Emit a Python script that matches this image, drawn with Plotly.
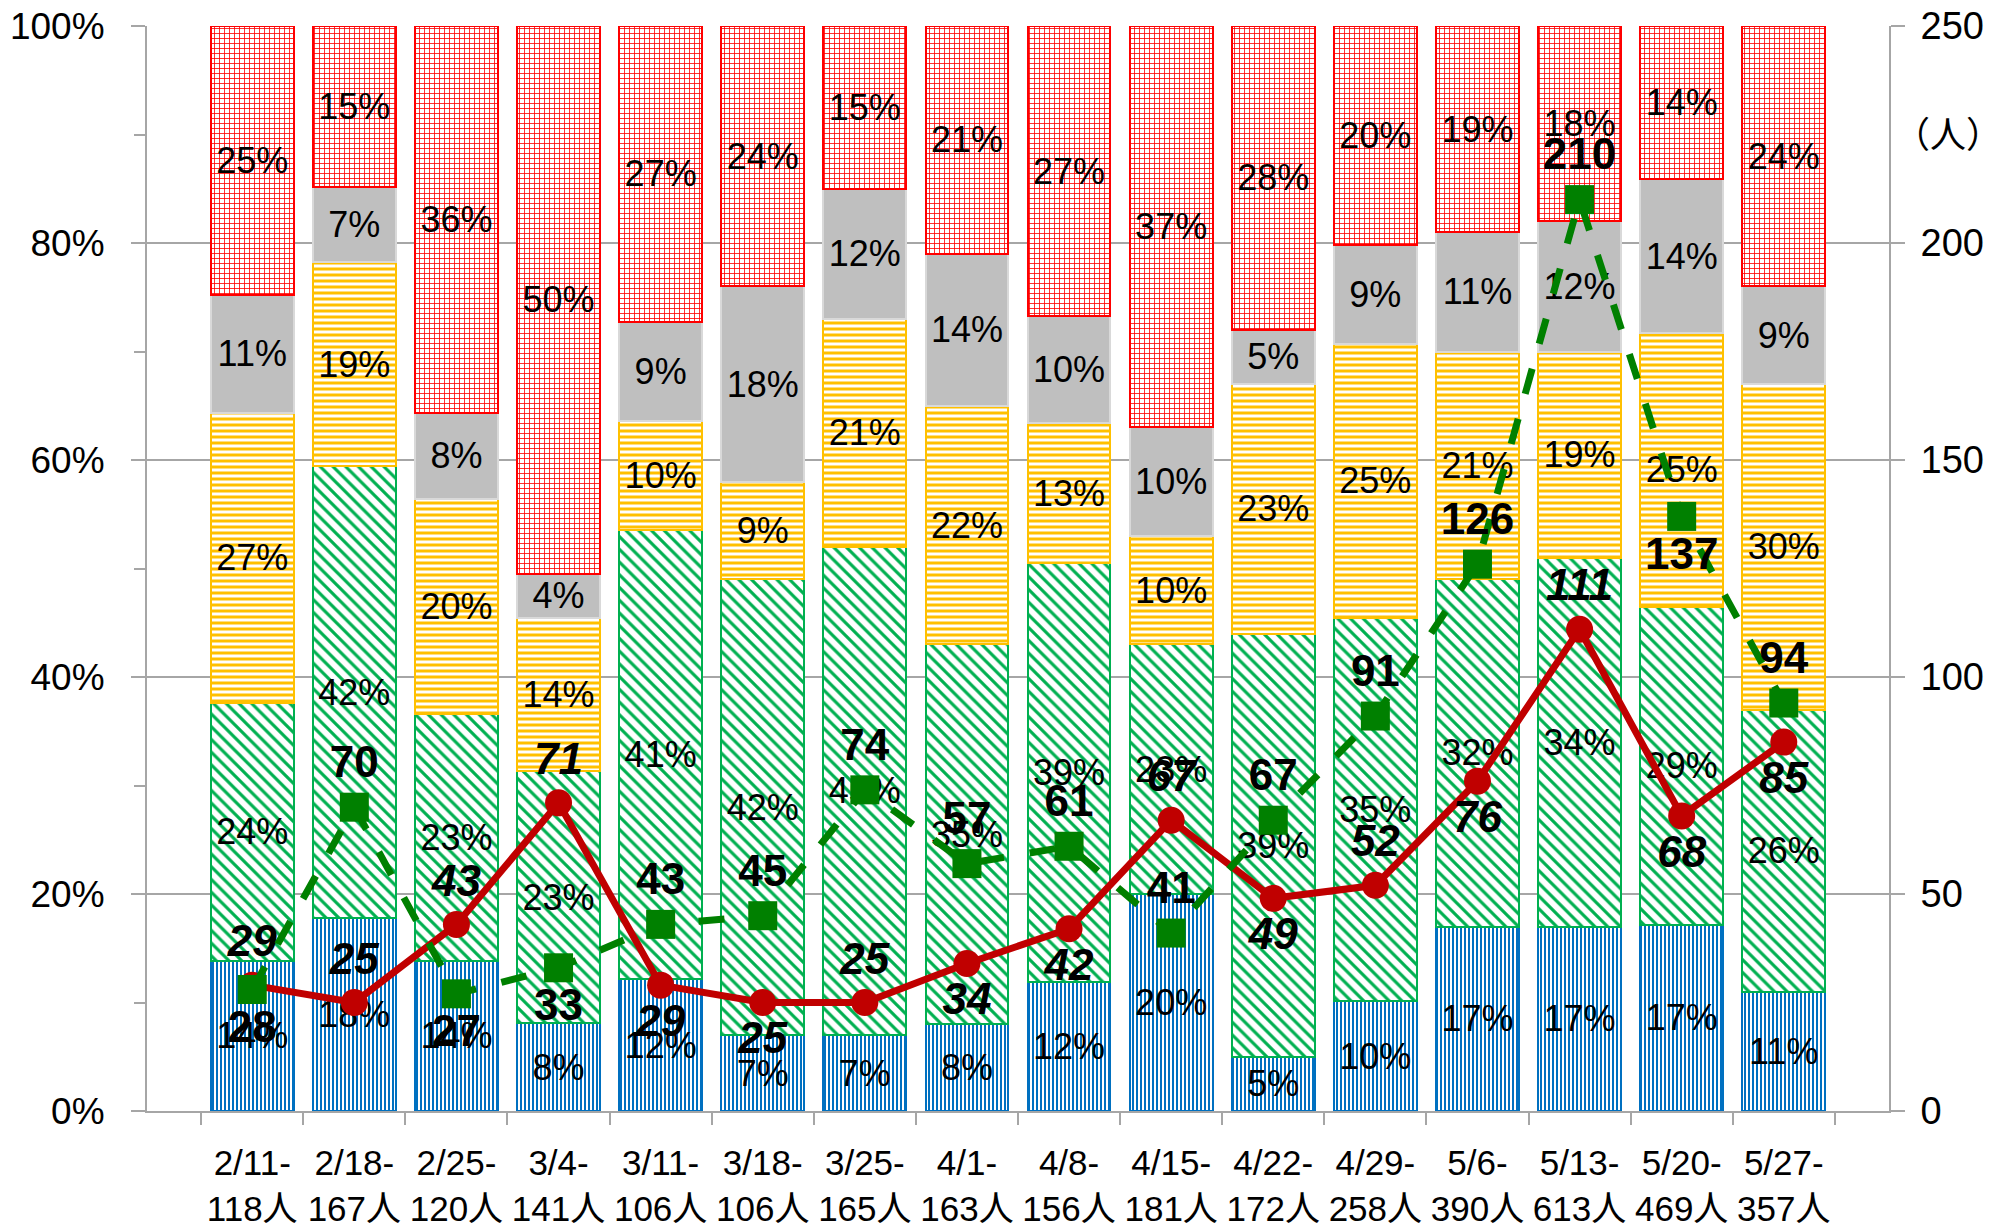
import plotly.graph_objects as go

weeks = ["2/11-", "2/18-", "2/25-", "3/4-", "3/11-", "3/18-", "3/25-", "4/1-",
         "4/8-", "4/15-", "4/22-", "4/29-", "5/6-", "5/13-", "5/20-", "5/27-"]
totals = [118, 167, 120, 141, 106, 106, 165, 163, 156, 181, 172, 258, 390, 613, 469, 357]

blue = [14, 18, 14, 8, 12, 7, 7, 8, 12, 20, 5, 10, 17, 17, 17, 11]
green = [24, 42, 23, 23, 41, 42, 45, 35, 39, 23, 39, 35, 32, 34, 29, 26]
yellow = [27, 19, 20, 14, 10, 9, 21, 22, 13, 10, 23, 25, 21, 19, 25, 30]
gray = [11, 7, 8, 4, 9, 18, 12, 14, 10, 10, 5, 9, 11, 12, 14, 9]
red = [25, 15, 36, 50, 27, 24, 15, 21, 27, 37, 28, 20, 19, 18, 14, 24]

line_red = [29, 25, 43, 71, 29, 25, 25, 34, 42, 67, 49, 52, 76, 111, 68, 85]
line_green = [28, 70, 27, 33, 43, 45, 74, 57, 61, 41, 67, 91, 126, 210, 137, 94]

red_label_pos = ["top", "top", "top", "top", "bottom", "bottom", "top", "bottom",
                 "bottom", "top", "bottom", "top", "bottom", "top", "bottom", "bottom"]
green_label_pos = ["bottom", "top", "bottom", "bottom", "top", "top", "top", "top",
                   "top", "top", "top", "top", "top", "top", "bottom", "top"]

cats = [f"{w}<br>{t}人" for w, t in zip(weeks, totals)]

FONT = "Liberation Sans, Arial, Noto Sans CJK JP, sans-serif"

segments = [
    (blue, "#0070C0", "|", "#0070C0", "#FFFFFF", 4, 0.5),
    (green, "#00B050", "\\", "#00B050", "#FFFFFF", 9, 0.35),
    (yellow, "#FFC000", "-", "#FFC000", "#FFFFFF", 6, 0.5),
    (gray, "#D9D9D9", "", "#BFBFBF", "#BFBFBF", 6, 0.5),
    (red, "#FF0000", "+", "#FF0000", "#FFFFFF", 5, 0.3),
]

fig = go.Figure()
for vals, border, shape, fg, bg, size, sol in segments:
    marker = dict(color=bg, line=dict(color=border, width=2))
    if shape:
        marker["pattern"] = dict(shape=shape, fgcolor=fg, bgcolor=bg, size=size,
                                 solidity=sol, fillmode="replace")
    else:
        marker["color"] = fg
    fig.add_trace(go.Bar(
        x=cats, y=vals, marker=marker,
        text=[f"{v}%" for v in vals], textposition="inside",
        insidetextanchor="middle", textangle=0,
        textfont=dict(family=FONT, size=36, color="black"),
        hoverinfo="skip",
    ))

fig.add_trace(go.Scatter(
    x=cats, y=line_red, yaxis="y2", mode="lines+markers+text",
    line=dict(color="#C00000", width=7),
    marker=dict(symbol="circle", size=27, color="#C00000"),
    text=[str(v) for v in line_red],
    textposition=[p + " center" for p in red_label_pos],
    textfont=dict(family=FONT, size=44, color="black", weight="bold", style="italic"),
    cliponaxis=False, hoverinfo="skip",
))
fig.add_trace(go.Scatter(
    x=cats, y=line_green, yaxis="y2", mode="lines+markers+text",
    line=dict(color="#008000", width=7, dash="26px,26px"),
    marker=dict(symbol="square", size=29, color="#008000"),
    text=[str(v) for v in line_green],
    textposition=[p + " center" for p in green_label_pos],
    textfont=dict(family=FONT, size=44, color="black", weight="bold"),
    cliponaxis=False, hoverinfo="skip",
))

axis_gray = "#A6A6A6"
fig.update_layout(
    width=1995, height=1218,
    margin=dict(l=139, r=114, t=18, b=115),
    barmode="stack", barnorm="percent", bargap=0.19,
    plot_bgcolor="white", paper_bgcolor="white",
    showlegend=False,
    uniformtext=dict(minsize=36, mode="show"),
    font=dict(family=FONT, size=36, color="black"),
    xaxis=dict(
        type="category", tickson="boundaries", ticks="outside", ticklen=12,
        tickcolor=axis_gray, tickwidth=2, showline=True, linecolor=axis_gray,
        linewidth=2, tickfont=dict(family=FONT, size=35, color="black"),
        tickangle=0, automargin=False, showgrid=False, ticklabelstandoff=20,
    ),
    yaxis=dict(
        range=[0, 100], dtick=20, ticksuffix="%", showgrid=True,
        gridcolor=axis_gray, gridwidth=1.5, zeroline=False,
        ticks="outside", ticklen=14, tickcolor=axis_gray, tickwidth=2,
        minor=dict(dtick=10, ticks="outside", ticklen=11, tickcolor=axis_gray,
                   tickwidth=2, showgrid=False),
        showline=True, linecolor=axis_gray, linewidth=2,
        tickfont=dict(family=FONT, size=37, color="black"),
        ticklabelstandoff=19, automargin=False, ticklabeloverflow="allow",
    ),
    yaxis2=dict(
        overlaying="y", side="right", range=[0, 250], dtick=50,
        showgrid=False, zeroline=False, ticks="outside", ticklen=14,
        tickcolor=axis_gray, tickwidth=2, showline=True, linecolor=axis_gray,
        linewidth=2, tickfont=dict(family=FONT, size=38, color="black"),
        ticklabelstandoff=8, automargin=False, ticklabeloverflow="allow",
    ),
    annotations=[dict(
        text="（人）", xref="paper", yref="paper",
        x=(1948 - 147) / 1742, y=(1111 - 132) / 1085,
        xanchor="center", yanchor="middle", showarrow=False,
        font=dict(family="Noto Sans CJK JP", size=36, color="black"),
    )],
)

fig.write_html("out.html")
